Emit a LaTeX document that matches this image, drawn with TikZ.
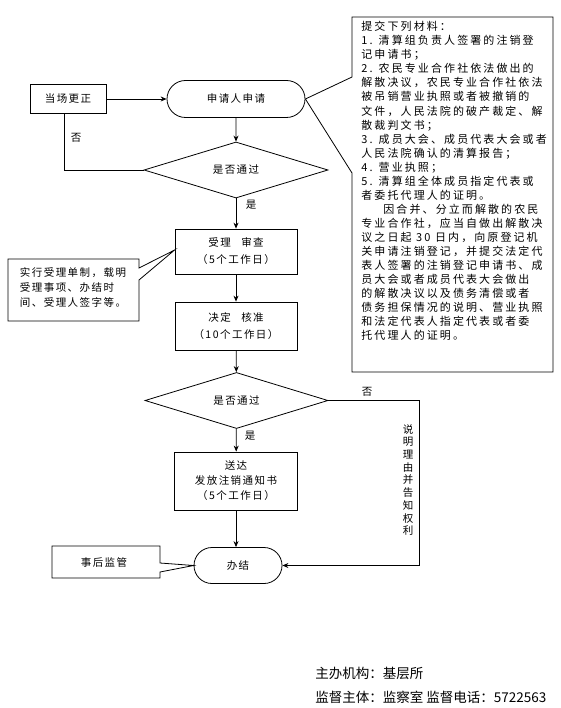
\documentclass[tikz,border=0pt]{standalone}
\usepackage{fontspec}
\setmainfont[LetterSpace=14]{Noto Sans CJK SC}
\newfontfamily\plainfont{Noto Sans CJK SC}
\newfontfamily\widefont[LetterSpace=19]{Noto Sans CJK SC}
\usetikzlibrary{shapes.geometric,shapes.misc,arrows.meta}
\begin{document}
\begin{tikzpicture}[x=1pt,y=-1pt,line width=0.8pt,
  font=\fontsize{10.5}{13}\selectfont,
  rbox/.style={draw,rectangle,inner sep=1pt,align=center},
  stad/.style={draw,rounded rectangle,inner sep=1pt,align=center},
  dia/.style={draw,diamond,inner sep=0pt,align=center},
  arr/.style={-{Stealth[length=6pt,width=5pt]}},
  lbl/.style={inner sep=0pt},
  note/.style={inner sep=0pt,align=left,font=\widefont\fontsize{11}{14.05}\selectfont}]
\useasboundingbox (0,0) rectangle (560,708);
\fill[white] (0,0) rectangle (560,708);

% main flow nodes
\node[rbox,minimum width=76pt,minimum height=29pt] (fix) at (68,99) {当场更正};
\node[stad,minimum width=140pt,minimum height=37pt] (apply) at (236,99) {申请人申请};
\node[dia,minimum width=184pt,minimum height=42pt] (d1) at (236,170) {是否通过};
\node[rbox,minimum width=122pt,minimum height=45pt,font=\fontsize{10.5}{17}\selectfont] (acc) at (236,251.5) {受理\quad 审查\\（5个工作日）};
\node[rbox,minimum width=122pt,minimum height=48pt,font=\fontsize{10.5}{17}\selectfont] (dec) at (236,326) {决定\quad 核准\\（10个工作日）};
\node[dia,minimum width=183pt,minimum height=43pt] (d2) at (236.5,400.5) {是否通过};
\node[rbox,minimum width=123pt,minimum height=58pt,font=\fontsize{10.5}{15}\selectfont] (del) at (236,481) {送达\\发放注销通知书\\（5个工作日）};
\node[stad,minimum width=90pt,minimum height=36pt] (done) at (238,565.5) {办结};

% connectors
\draw[arr] (fix.east) -- (apply.west);
\draw[arr] (apply) -- (d1);
\coordinate (fixb) at (64,114);
\draw (d1.west) -| (fixb);
\node[lbl] (no1) at (76,138) {否};
\draw[arr] (d1) -- (acc);
\node[lbl] (yes1) at (251,205) {是};
\draw[arr] (acc) -- (dec);
\draw[arr] (dec) -- (d2);
\draw[arr] (d2) -- (del);
\node[lbl] (yes2) at (250,436) {是};
\draw[arr] (del.south) -- (del.south |- done.north);
\coordinate (nc) at (419,0);
\draw[arr] (d2.east) -- (d2.east -| nc) -- (nc |- done.east) -- (done.east);
\node[lbl] (no2) at (367,392) {否};
\node[lbl,align=center,font=\fontsize{10.5}{12.7}\selectfont] (why) at (408,480) {说\\明\\理\\由\\并\\告\\知\\权\\利};

% materials callout
\draw (352,17) -- (553,17) -- (553,372) -- (352,372) -- (352,173) -- (apply.east) -- (352,77) -- cycle;
\node[note,anchor=north west] (mat) at (361,21) {提交下列材料：\\
1. 清算组负责人签署的注销登\\
记申请书；\\
2. 农民专业合作社依法做出的\\
解散决议，农民专业合作社依法\\
被吊销营业执照或者被撤销的\\
文件，人民法院的破产裁定、解\\
散裁判文书；\\
3. 成员大会、成员代表大会或者\\
人民法院确认的清算报告；\\
4. 营业执照；\\
5. 清算组全体成员指定代表或\\
者委托代理人的证明。\\
\hspace*{2em}因合并、分立而解散的农民\\
专业合作社，应当自做出解散决\\
议之日起 30 日内，向原登记机\\
关申请注销登记，并提交法定代\\
表人签署的注销登记申请书、成\\
员大会或者成员代表大会做出\\
的解散决议以及债务清偿或者\\
债务担保情况的说明、营业执照\\
和法定代表人指定代表或者委\\
托代理人的证明。};

% left callout
\draw (8,259) -- (139,259) -- (139,268) -- (acc.west |- 0,250) -- (139,280) -- (139,321) -- (8,321) -- cycle;
\node[inner sep=0pt,align=left,font=\fontsize{10.5}{15}\selectfont] (rule) at (73,287) {实行受理单制，载明\\受理事项、办结时\\间、受理人签字等。};

% post supervision callout
\draw (52,546) -- (160,546) -- (160,563) -- (done.west) -- (160,572) -- (160,578) -- (52,578) -- cycle;
\node[lbl] (post) at (104,562) {事后监管};

% footer
\node[anchor=west,inner sep=0pt,font=\plainfont\fontsize{13.5}{16}\selectfont] (org) at (315,673) {主办机构：基层所};
\node[anchor=west,inner sep=0pt,font=\plainfont\fontsize{13.5}{16}\selectfont] (sup) at (315,697) {监督主体：监察室 监督电话：5722563};
\end{tikzpicture}
\end{document}
